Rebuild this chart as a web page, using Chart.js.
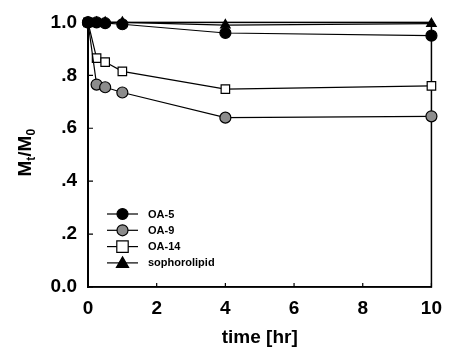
<!DOCTYPE html>
<html>
<head>
<meta charset="utf-8">
<script src="https://cdn.jsdelivr.net/npm/chart.js@4"></script>
<style>
  html, body { margin: 0; padding: 0; background: #fff; }
  #wrap { width: 452px; height: 353px; }
</style>
</head>
<body>
<div id="wrap"><canvas id="chart" width="452" height="353"></canvas></div>
<script>
// data
const times = [0, 0.25, 0.5, 1, 4, 10];
const oa5 = [1.0, 1.0, 0.997, 0.993, 0.96, 0.95];
const oa9 = [1.0, 0.765, 0.755, 0.735, 0.64, 0.645];
const oa14 = [1.0, 0.865, 0.85, 0.815, 0.748, 0.76];
const sophorolipid = [1.0, 1.0, 1.0, 1.0, 0.99, 0.995];
const seriesNames = ['OA-5', 'OA-9', 'OA-14', 'sophorolipid'];
const xTicks = [0, 2, 4, 6, 8, 10];
const yTicks = [0, 0.2, 0.4, 0.6, 0.8, 1.0];

const FONT = 'Liberation Sans, Arial, Helvetica, sans-serif';

function pts(values) {
  return times.map((t, i) => ({ x: t, y: values[i] }));
}

// marker styles
const markers = [
  { style: 'circle', fill: '#000', radius: 5.5 },
  { style: 'circle', fill: '#8c8c8c', radius: 5.5 },
  { style: 'rect', fill: '#fff', radius: 6 },
  { style: 'triangle', fill: '#000', radius: 5.5 }
];

function makeSet(name, values, m) {
  return {
    label: name,
    data: pts(values),
    showLine: true,
    borderColor: '#000',
    borderWidth: 1.2,
    pointStyle: m.style,
    pointRadius: m.radius,
    pointBackgroundColor: m.fill,
    pointBorderColor: '#000',
    pointBorderWidth: 1.2,
    clip: false
  };
}

// draw one marker by hand (used for the legend)
function drawMarker(ctx, m, x, y) {
  ctx.save();
  ctx.fillStyle = m.fill;
  ctx.strokeStyle = '#000';
  ctx.lineWidth = 1.2;
  ctx.beginPath();
  if (m.style === 'circle') {
    ctx.arc(x, y, m.radius, 0, Math.PI * 2);
  } else if (m.style === 'rect') {
    const s = m.radius * 0.95;
    ctx.rect(x - s, y - s, s * 2, s * 2);
  } else {
    const r = m.radius;
    ctx.moveTo(x, y - r * 1.1);
    ctx.lineTo(x + r * 1.1, y + r * 0.8);
    ctx.lineTo(x - r * 1.1, y + r * 0.8);
    ctx.closePath();
  }
  ctx.fill();
  ctx.stroke();
  ctx.restore();
}

// box frame + inward ticks
const framePlugin = {
  id: 'frame',
  beforeDatasetsDraw(chart) {
    const { ctx, chartArea: a, scales } = chart;
    ctx.save();
    ctx.strokeStyle = '#000';
    ctx.lineWidth = 1.5;
    ctx.strokeRect(a.left, a.top, a.right - a.left, a.bottom - a.top);
    ctx.lineWidth = 1.2;
    ctx.beginPath();
    xTicks.forEach(v => {
      const px = scales.x.getPixelForValue(v);
      ctx.moveTo(px, a.bottom);
      ctx.lineTo(px, a.bottom - 4);
    });
    yTicks.forEach(v => {
      const py = scales.y.getPixelForValue(v);
      ctx.moveTo(a.left, py);
      ctx.lineTo(a.left + 5, py);
    });
    ctx.stroke();
    ctx.restore();
  }
};

// y title with subscripts: M_t/M_0
const yTitlePlugin = {
  id: 'yTitle',
  afterDraw(chart) {
    const { ctx, chartArea: a } = chart;
    const big = 'bold 19px ' + FONT;
    const small = 'bold 12px ' + FONT;
    const parts = [
      { t: 'M', f: big, dy: 0 },
      { t: 't', f: small, dy: 4 },
      { t: '/M', f: big, dy: 0 },
      { t: '0', f: small, dy: 4 }
    ];
    ctx.save();
    let total = 0;
    parts.forEach(p => { ctx.font = p.f; p.w = ctx.measureText(p.t).width; total += p.w; });
    const cy = (a.top + a.bottom) / 2 - 2;
    ctx.translate(31, cy);
    ctx.rotate(-Math.PI / 2);
    ctx.fillStyle = '#000';
    ctx.textBaseline = 'alphabetic';
    let x = -total / 2;
    parts.forEach(p => {
      ctx.font = p.f;
      ctx.fillText(p.t, x, p.dy);
      x += p.w;
    });
    ctx.restore();
  }
};

// legend inside the plot, line through marker
const legendPlugin = {
  id: 'innerLegend',
  afterDraw(chart) {
    const { ctx, chartArea: a } = chart;
    const x0 = a.left + 19, x1 = a.left + 50;
    const y0 = a.bottom - 73, step = 16.3;
    ctx.save();
    ctx.font = 'bold 11px ' + FONT;
    ctx.textBaseline = 'middle';
    ctx.fillStyle = '#000';
    chart.data.datasets.forEach((ds, i) => {
      const y = y0 + i * step;
      ctx.strokeStyle = '#000';
      ctx.lineWidth = 1.2;
      ctx.beginPath();
      ctx.moveTo(x0, y);
      ctx.lineTo(x1, y);
      ctx.stroke();
      drawMarker(ctx, markers[i], (x0 + x1) / 2, y);
      ctx.fillStyle = '#000';
      ctx.fillText(ds.label, x1 + 10, y + 0.5);
    });
    ctx.restore();
  }
};

const ctx = document.getElementById('chart').getContext('2d');
const chart = new Chart(ctx, {
  type: 'scatter',
  data: {
    datasets: [
      makeSet(seriesNames[0], oa5, markers[0]),
      makeSet(seriesNames[1], oa9, markers[1]),
      makeSet(seriesNames[2], oa14, markers[2]),
      makeSet(seriesNames[3], sophorolipid, markers[3])
    ]
  },
  options: {
    responsive: false,
    animation: false,
    layout: { padding: { top: 16, right: 10, left: 0, bottom: 0 } },
    plugins: { legend: { display: false }, tooltip: { enabled: false } },
    scales: {
      x: {
        type: 'linear',
        min: 0,
        max: 10,
        afterBuildTicks: s => { s.ticks = xTicks.map(v => ({ value: v })); },
        afterFit: s => { s.height = 66; },
        grid: { display: false, drawTicks: false },
        border: { display: true, color: '#000', width: 1.5 },
        ticks: { color: '#000', padding: 10, font: { family: FONT, size: 19, weight: 'bold' } },
        title: {
          display: true,
          text: 'time [hr]',
          color: '#000',
          padding: { top: 4, bottom: 4 },
          font: { family: FONT, size: 19, weight: 'bold' }
        }
      },
      y: {
        min: 0,
        max: 1.0,
        afterBuildTicks: s => { s.ticks = yTicks.map(v => ({ value: v })); },
        afterFit: s => { s.width = 88; },
        grid: { display: false, drawTicks: false },
        border: { display: true, color: '#000', width: 2 },
        ticks: {
          color: '#000',
          padding: 11,
          font: { family: FONT, size: 19, weight: 'bold' },
          callback: v => {
            if (Math.abs(v) < 1e-6) return '0.0';
            if (Math.abs(v - 1) < 1e-6) return '1.0';
            return '.' + Math.round(v * 10);
          }
        }
      }
    }
  },
  plugins: [framePlugin, yTitlePlugin, legendPlugin]
});
</script>
</body>
</html>
